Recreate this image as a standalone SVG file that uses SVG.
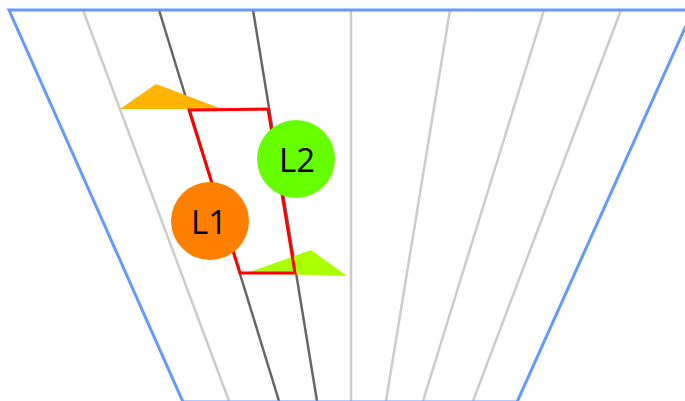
<svg xmlns="http://www.w3.org/2000/svg" width="685" height="401" viewBox="0 0 685 401">
<style>
.lg{stroke:#cccccc;stroke-width:2.5;fill:none}
.dk{stroke:#666666;stroke-width:2.5;fill:none}
.bl{stroke:#6699ff;stroke-width:3;fill:none}
.lbl{font-family:"Open Sans",sans-serif;font-size:33px;fill:#000;text-anchor:middle;dominant-baseline:central}
</style>
<rect width="685" height="401" fill="#ffffff"/>
<g id="connectors">
<line class="lg" x1="83" y1="10" x2="229" y2="401"/>
<line class="dk" x1="159" y1="10" x2="279" y2="401"/>
<line class="dk" x1="253" y1="10" x2="317" y2="401"/>
<line class="lg" x1="351" y1="10" x2="351" y2="401"/>
<line class="lg" x1="450" y1="10" x2="386" y2="401"/>
<line class="lg" x1="544" y1="10" x2="423" y2="401"/>
<line class="lg" x1="621" y1="10" x2="473" y2="401"/>
<polygon points="9,10 693,10 517,402 183,402" class="bl" stroke-linejoin="miter"/>
</g>
<g id="markers">
<polygon points="120,109 156,84 222,109" fill="#ffb400"/>
<polygon points="247,273 311,250 347,276" fill="#aaff00"/>
<polygon points="189,110 268,109 295,273 240,273" fill="none" stroke="#ff0000" stroke-width="3"/>
</g>
<g id="L1">
<circle cx="210" cy="221" r="39" fill="#ff7f00"/>
<text class="lbl" x="209" y="221">L1</text>
</g>
<g id="L2">
<circle cx="296" cy="159" r="39" fill="#66ff00"/>
<text class="lbl" x="297" y="159">L2</text>
</g>
</svg>
